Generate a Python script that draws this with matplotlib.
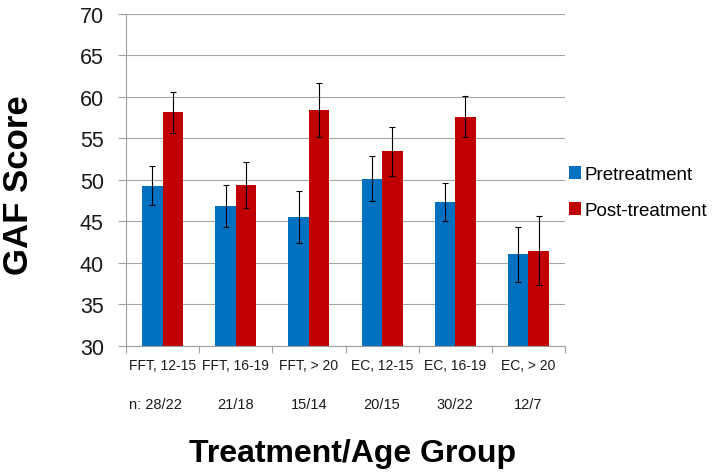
import matplotlib
matplotlib.use('Agg')
import matplotlib.pyplot as plt
import numpy as np

plt.rcParams['font.family'] = ['Liberation Sans', 'DejaVu Sans']

categories = ['FFT, 12-15', 'FFT, 16-19', 'FFT, > 20', 'EC, 12-15', 'EC, 16-19', 'EC, > 20']
n_labels = ['n: 28/22', '21/18', '15/14', '20/15', '30/22', '12/7']
pre = [49.3, 46.8, 45.5, 50.1, 47.3, 41.0]
pre_err = [2.3, 2.55, 3.1, 2.7, 2.25, 3.3]
post = [58.1, 49.4, 58.4, 53.4, 57.6, 41.45]
post_err = [2.5, 2.75, 3.2, 3.0, 2.5, 4.15]
yticks = [30, 35, 40, 45, 50, 55, 60, 65, 70]

W, H = 714, 477
fig = plt.figure(figsize=(W / 100, H / 100), dpi=100)
ax = fig.add_axes([126 / W, 130.3 / H, (565 - 126) / W, 332 / H])

x = np.arange(len(categories))
w = 0.28
ekw = dict(elinewidth=0.8, capthick=0.8, ecolor='black')
ax.bar(x - w / 2, pre, w, color='#0070C0', yerr=pre_err, capsize=2, error_kw=ekw,
       label='Pretreatment', zorder=2)
ax.bar(x + w / 2, post, w, color='#C00000', yerr=post_err, capsize=2, error_kw=ekw,
       label='Post-treatment', zorder=2)

ax.set_xlim(-0.5, len(categories) - 0.5)
ax.set_ylim(30, 70)
ax.set_yticks(yticks)
ax.yaxis.grid(True, color='#a6a6a6', lw=0.8)
ax.set_axisbelow(True)
for s in ['top', 'right']:
    ax.spines[s].set_visible(False)
for s in ['left', 'bottom']:
    ax.spines[s].set_color('#a0a0a0')
    ax.spines[s].set_linewidth(0.8)

ax.tick_params(axis='y', labelsize=15.5, length=6, width=0.8, color='#a0a0a0',
               pad=10, labelcolor='#1a1a1a')
ax.set_xticks(np.arange(-0.5, len(categories)), labels=[''] * (len(categories) + 1))
ax.set_xticks(x, labels=categories, minor=True)
ax.tick_params(axis='x', which='major', length=5, width=0.8, color='#a0a0a0')
ax.tick_params(axis='x', which='minor', length=0, labelsize=10, pad=9, labelcolor='#1a1a1a')

trans = ax.get_xaxis_transform()
for i, lab in enumerate(n_labels):
    off = -0.1 if i == 0 else 0
    ax.text(i + off, -0.1756, lab, transform=trans, ha='center', va='center',
            fontsize=10.5, color='#1a1a1a')

fig.text(353 / W, 1 - 454 / H, 'Treatment/Age Group', ha='center', va='center',
         fontsize=23, weight='bold')
fig.text(19 / W, 1 - 185 / H, 'GAF Score', ha='center', va='center', rotation=90,
         fontsize=25, weight='bold')

fig.legend(loc='center left', bbox_to_anchor=(569 / W, 1 - 193.5 / H), frameon=False,
           fontsize=13.5, handlelength=0.65, handleheight=0.65, handletextpad=0.2,
           borderpad=0, borderaxespad=0, labelspacing=1.0)

fig.savefig('out.png', dpi=100)
